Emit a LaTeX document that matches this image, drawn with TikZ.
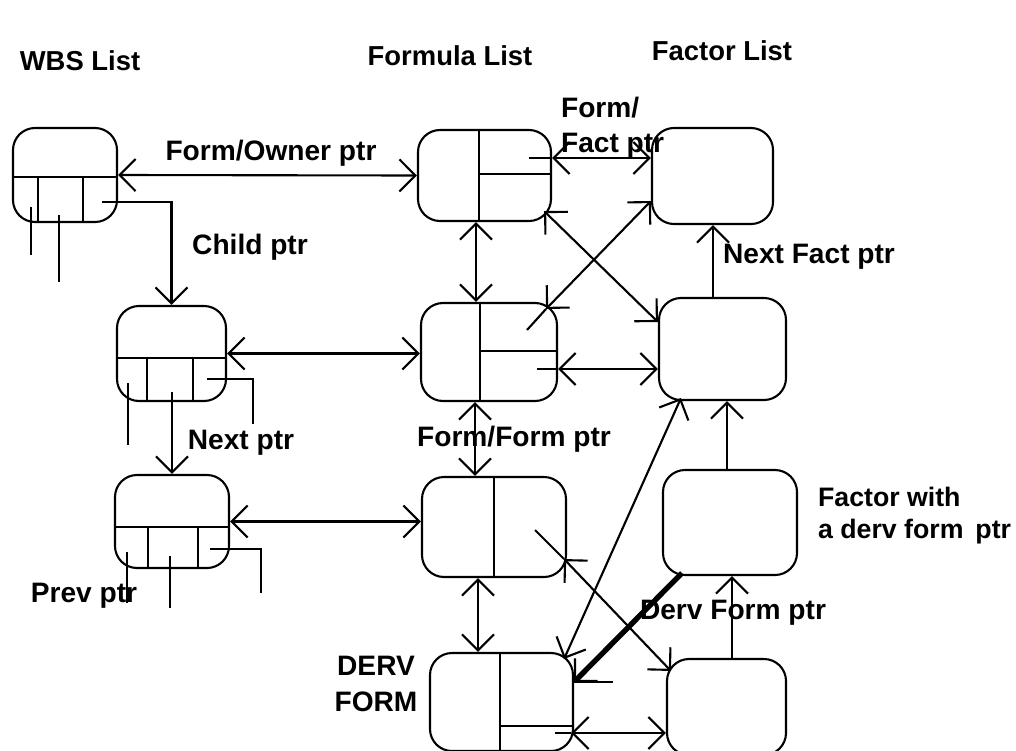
\documentclass[tikz,border=0pt]{standalone}
\usepackage{fontspec}
\setmainfont{Liberation Sans}
\usetikzlibrary{arrows.meta}
\tikzset{
  recbox/.style 2 args={draw, rounded corners=0.55cm, inner sep=0pt,
               minimum width=#1*0.025cm, minimum height=#2*0.025cm},
  lbl/.style={font=\fontsize{20}{25}\selectfont\bfseries, inner sep=0pt},
  hdr/.style={font=\fontsize{19.5}{22}\selectfont\bfseries, inner sep=0pt},
  arr/.style={->},
  darr/.style={<->},
  tarr/.style={-{Straight Barb[length=4mm,width=8mm,line width=1.5pt]}, line width=3.8pt},
}

\begin{document}
\begin{tikzpicture}[x=0.025cm, y=-0.025cm, line width=1.5pt,
  >={Straight Barb[length=4mm,width=8mm]}]
  \clip (0,0) rectangle (1016,750);

  %% headings
  \node[hdr] (hwbs) at (80,61) {WBS List};
  \node[hdr] (hform) at (450,56) {Formula List};
  \node[hdr] (hfact) at (722,51) {Factor List};

  %% WBS list
  \node[recbox={104}{94}] (w1) at (65,175) {};
  \draw (w1.west |- 0,177) -- (w1.east |- 0,177);
  \draw (38,177) -- (38,0 |- w1.south);
  \draw (83,177) -- (83,0 |- w1.south);
  \draw (31,207) -- (31,255);
  \draw (59,215) -- (59,282);

  \node[recbox={109}{95}] (w2) at (171.5,353.5) {};
  \draw (w2.west |- 0,358) -- (w2.east |- 0,358);
  \draw (147,358) -- (147,0 |- w2.south);
  \draw (193,358) -- (193,0 |- w2.south);
  \draw (128,383) -- (128,445);
  \draw (207,379) -| (253,424);

  \node[recbox={114}{93}] (w3) at (172,521.5) {};
  \draw (w3.west |- 0,527) -- (w3.east |- 0,527);
  \draw (148,527) -- (148,0 |- w3.south);
  \draw (198,527) -- (198,0 |- w3.south);
  \draw (127,552) -- (127,603);
  \draw (170,556) -- (170,608);
  \draw (210,549) -| (261,593);

  %% Formula list
  \node[recbox={133}{91}] (f1) at (484.5,175.5) {};
  \draw (479,0 |- f1.north) -- (479,0 |- f1.south);
  \draw (479,174) -- (f1.east |- 0,174);

  \node[recbox={136}{98}] (f2) at (489,352) {};
  \draw (480,0 |- f2.north) -- (480,0 |- f2.south);
  \draw (480,351) -- (f2.east |- 0,351);

  \node[recbox={144}{100}] (f3) at (494,527) {};
  \draw (494,0 |- f3.north) -- (494,0 |- f3.south);

  \node[recbox={143}{98}] (f4) at (501.5,702) {};
  \draw (500,0 |- f4.north) -- (500,0 |- f4.south);
  \draw (500,726) -- (f4.east |- 0,726);

  %% Factor list
  \node[recbox={121}{96}] (c1) at (712.5,176) {};
  \node[recbox={127}{102}] (c2) at (722.5,349) {};
  \node[recbox={134}{105}] (c3) at (730,522.5) {};
  \node[recbox={119}{96}] (c4) at (726.5,707) {};

  %% WBS pointers
  \coordinate (w1child) at (102,202);
  \coordinate (w2next) at (172,392);
  \draw[darr] (w1.east) -- (f1.west);
  \draw[arr] (w1child) -| (w2.north);
  \draw[darr] (w2.east) -- (w2.east -| f2.west);
  \draw[arr] (w2next) -- (w3.north);
  \draw[darr] (w3.east) -- (w3.east -| f3.west);

  %% Form/Form pointers
  \draw[darr] (f1.south -| 476,0) -- (f2.north -| 476,0);
  \draw[darr] (f2.south -| 475,0) -- (f3.north -| 475,0);
  \draw[darr] (f3.south -| 478,0) -- (f4.north -| 478,0);

  %% Form/Fact pointers
  \coordinate (f1fact) at (529,158);
  \draw (f1fact) -- (f1.east |- f1fact);
  \draw[darr] (f1.east |- f1fact) -- (c1.west |- f1fact);
  \draw[darr] ([shift={(-8,-11)}]f1.south east) -- (c2.west |- 0,322);
  \coordinate (f2fact) at (527,330);
  \draw (f2fact) -- ([shift={(-12,7)}]f2.north east);
  \draw[darr] ([shift={(-12,7)}]f2.north east) -- (c1.west |- 0,201);
  \coordinate (f2fact2) at (537,369);
  \draw (f2fact2) -- (f2.east |- f2fact2);
  \draw[darr] (f2.east |- f2fact2) -- (c2.west |- f2fact2);
  \coordinate (f3fact) at (535,530);
  \draw (f3fact) -- ([shift={(-3,-19)}]f3.south east);
  \draw[darr] ([shift={(-3,-19)}]f3.south east) -- ([shift={(5,13)}]c4.north west);
  \draw[darr] ([shift={(-10,7)}]f4.north east) -- ([shift={(23,-3)}]c2.south west);
  \coordinate (f4fact) at (555,733);
  \draw (f4fact) -- ([xshift=-3*0.025cm]f4.east |- f4fact);
  \draw[darr] ([xshift=-3*0.025cm]f4.east |- f4fact) -- (c4.west |- f4fact);

  %% Next Fact pointers
  \draw[arr] (c2.north -| 713,0) -- (c1.south -| 713,0);
  \draw[arr] (c3.north -| 727,0) -- (c2.south -| 727,0);
  \draw[arr] (c4.north -| 732,0) -- (c3.south -| 732,0);

  %% Derv Form pointer
  \coordinate (f4derv) at (613,682);
  \draw[tarr] ([shift={(20,-3)}]c3.south west) -- (f4.east |- f4derv);
  \draw (f4.east |- f4derv) -- (f4derv);

  %% labels
  \node[lbl] (lowner) at (271,153) {Form/Owner ptr};
  \node[lbl] (lchild) at (250,247) {Child ptr};
  \node[lbl] (lnext) at (241,443) {Next ptr};
  \node[lbl] (lprev) at (84,596) {Prev ptr};
  \node[lbl, anchor=north west, align=left] (lfact) at (560,96) {Form/\\Fact ptr};
  \node[lbl] (lnextfact) at (809,257) {Next Fact ptr};
  \node[lbl] (lformform) at (514,439) {Form/Form ptr};
  \node[lbl, anchor=north west, align=left, font=\fontsize{19}{23}\selectfont\bfseries]
    (lfactor) at (817,486) {Factor with\\a derv form\, ptr};
  \node[lbl] (ldervptr) at (733,613) {Derv Form ptr};
  \node[lbl, align=center] (lderv) at (376,684) {DERV\\FORM};

\end{tikzpicture}
\end{document}
